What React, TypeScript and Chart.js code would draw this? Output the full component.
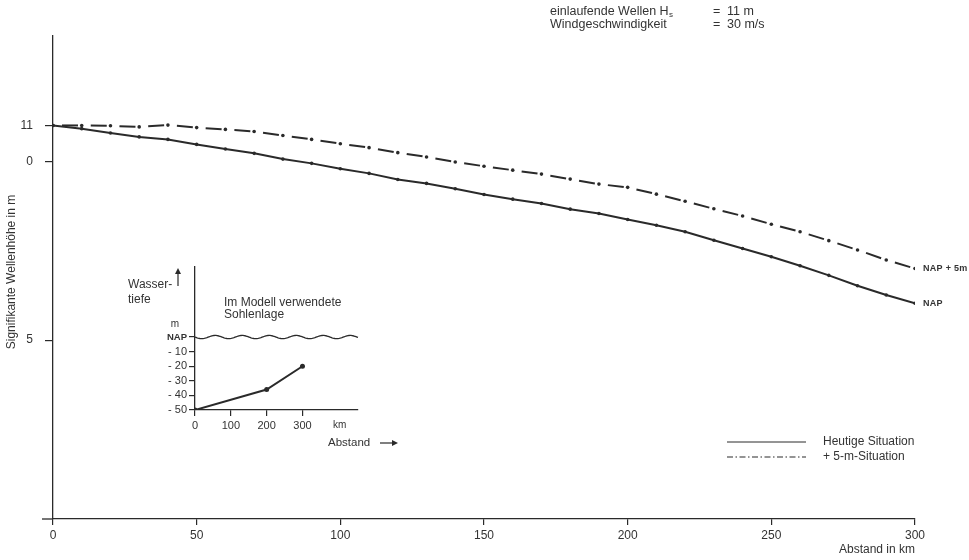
import React, { useEffect, useRef } from "react";
import { Chart, registerables } from "chart.js";

Chart.register(...registerables);

// ---------- main chart data ----------
const DISTANCE_KM = [0, 10, 20, 30, 40, 50, 60, 70, 80, 90, 100, 110, 120, 130, 140, 150, 160, 170, 180, 190, 200, 210, 220, 230, 240, 250, 260, 270, 280, 290, 300];
const HEUTIGE_M = [11.0, 10.91, 10.79, 10.68, 10.61, 10.47, 10.34, 10.22, 10.06, 9.94, 9.79, 9.66, 9.49, 9.38, 9.23, 9.07, 8.94, 8.82, 8.66, 8.54, 8.37, 8.21, 8.03, 7.79, 7.56, 7.33, 7.08, 6.81, 6.52, 6.26, 6.03];
const PLUS5_M = [11.0, 11.0, 10.99, 10.96, 11.01, 10.94, 10.89, 10.83, 10.72, 10.61, 10.49, 10.38, 10.24, 10.12, 9.98, 9.86, 9.75, 9.64, 9.5, 9.36, 9.27, 9.08, 8.88, 8.67, 8.47, 8.24, 8.03, 7.78, 7.52, 7.24, 7.0];
const SERIES_LABELS = ["Heutige Situation", "+ 5-m-Situation"];
const END_LABELS = ["NAP", "NAP + 5m"];
const X_TICKS = [0, 50, 100, 150, 200, 250, 300];
const Y_TICKS = [5, 10, 11];
const Y_TICK_LABELS = ["5", "0", "11"];
const HEADER_LINES = [
  ["einlaufende Wellen H", "s", "=", "11 m"],
  ["Windgeschwindigkeit", "", "=", "30 m/s"],
];

// ---------- inset data ----------
const INSET_KM = [0, 200, 300];
const INSET_DEPTH_M = [-50, -36, -20];
const INSET_X_TICKS = [0, 100, 200, 300];
const INSET_Y_TICKS = [0, -10, -20, -30, -40, -50];
const INSET_Y_LABELS = ["NAP", "- 10", "- 20", "- 30", "- 40", "- 50"];

const FONT = '"Liberation Sans", Arial, Helvetica, sans-serif';
const INK = "#2a2a2a";
const TXT = "#333333";

function text(ctx: CanvasRenderingContext2D, s: string, x: number, y: number, size: number, align: CanvasTextAlign = "left", weight = "normal", spacing = "0px") {
  ctx.save();
  ctx.font = `${weight} ${size}px ${FONT}`;
  ctx.fillStyle = TXT;
  ctx.textAlign = align;
  ctx.textBaseline = "middle";
  (ctx as any).letterSpacing = spacing;
  ctx.fillText(s, x, y);
  ctx.restore();
}

function arrowHead(ctx: CanvasRenderingContext2D, x: number, y: number, dir: "up" | "right") {
  ctx.beginPath();
  if (dir === "up") {
    ctx.moveTo(x, y);
    ctx.lineTo(x - 3, y + 6);
    ctx.lineTo(x + 3, y + 6);
  } else {
    ctx.moveTo(x, y);
    ctx.lineTo(x - 6, y - 3);
    ctx.lineTo(x - 6, y + 3);
  }
  ctx.closePath();
  ctx.fill();
}

const mainAnnotations = {
  id: "mainAnnotations",
  afterDraw(chart: any) {
    const ctx: CanvasRenderingContext2D = chart.ctx;
    const xs = chart.scales.x;
    const ys = chart.scales.y;
    const area = chart.chartArea;

    // small overhang of the x axis to the left of the y axis
    ctx.save();
    ctx.strokeStyle = INK;
    ctx.lineWidth = 1.3;
    ctx.beginPath();
    ctx.moveTo(42, area.bottom);
    ctx.lineTo(area.left, area.bottom);
    ctx.stroke();
    ctx.restore();

    // header
    HEADER_LINES.forEach((row, i) => {
      const y = 12 + i * 13;
      ctx.save();
      ctx.font = `12.5px ${FONT}`;
      const w = ctx.measureText(row[0]).width;
      ctx.restore();
      text(ctx, row[0], 550, y, 12.5);
      if (row[1]) text(ctx, row[1], 550 + w + 0.5, y + 3, 8);
      text(ctx, row[2], 713, y, 12.5);
      text(ctx, row[3], 727, y, 12.5);
    });

    // axis titles
    ctx.save();
    ctx.translate(12, 272);
    ctx.rotate(-Math.PI / 2);
    text(ctx, "Signifikante Wellenhöhe in m", 0, 0, 12, "center");
    ctx.restore();
    text(ctx, "Abstand in km", 915, 550, 12, "right");

    // end labels
    const xe = xs.getPixelForValue(DISTANCE_KM[DISTANCE_KM.length - 1]);
    text(ctx, END_LABELS[0], xe + 8, ys.getPixelForValue(HEUTIGE_M[HEUTIGE_M.length - 1]), 9, "left", "bold", "0.3px");
    text(ctx, END_LABELS[1], xe + 8, ys.getPixelForValue(PLUS5_M[PLUS5_M.length - 1]), 9, "left", "bold", "0.3px");

    // legend
    ctx.save();
    ctx.strokeStyle = INK;
    ctx.lineWidth = 1;
    ctx.beginPath();
    ctx.moveTo(727, 442);
    ctx.lineTo(806, 442);
    ctx.stroke();
    ctx.setLineDash([6, 2.5, 1.5, 2.5]);
    ctx.lineWidth = 1.2;
    ctx.beginPath();
    ctx.moveTo(727, 457);
    ctx.lineTo(806, 457);
    ctx.stroke();
    ctx.restore();
    text(ctx, SERIES_LABELS[0], 823, 442, 12);
    text(ctx, SERIES_LABELS[1], 823, 457, 12);
  },
};

const insetAnnotations = {
  id: "insetAnnotations",
  afterDraw(chart: any) {
    const ctx: CanvasRenderingContext2D = chart.ctx;
    const area = chart.chartArea;
    const ys = chart.scales.y;
    const y0 = ys.getPixelForValue(0);

    // water surface (wavy line at NAP)
    ctx.save();
    ctx.strokeStyle = INK;
    ctx.lineWidth = 1.3;
    ctx.beginPath();
    for (let x = area.left; x <= area.right; x += 1) {
      const y = y0 + 1.6 * Math.sin(((x - area.left) / 27) * Math.PI * 2);
      if (x === area.left) ctx.moveTo(x, y);
      else ctx.lineTo(x, y);
    }
    ctx.stroke();

    // y-axis caption with arrow
    ctx.lineWidth = 1.2;
    ctx.fillStyle = INK;
    ctx.beginPath();
    ctx.moveTo(78, 36);
    ctx.lineTo(78, 22);
    ctx.stroke();
    arrowHead(ctx, 78, 18, "up");

    // x-axis caption arrow
    ctx.beginPath();
    ctx.moveTo(280, 193);
    ctx.lineTo(294, 193);
    ctx.stroke();
    arrowHead(ctx, 298, 193, "right");
    ctx.restore();

    text(ctx, "Wasser-", 28, 35, 12);
    text(ctx, "tiefe", 28, 50, 12);
    text(ctx, "m", 75, 74, 10, "center");
    text(ctx, "Im Modell verwendete", 124, 53, 12);
    text(ctx, "Sohlenlage", 124, 65, 12);
    text(ctx, "km", 233, 175, 10);
    text(ctx, "Abstand", 228, 193, 11.5);
  },
};

export default function App() {
  const mainRef = useRef<HTMLCanvasElement>(null);
  const insetRef = useRef<HTMLCanvasElement>(null);

  useEffect(() => {
    document.body.style.margin = "0";
    if (!mainRef.current || !insetRef.current) return;

    const axisGrid = { drawOnChartArea: false, drawTicks: true, color: INK, lineWidth: 1.2 };
    const axisBorder = { display: true, color: INK, width: 1.3 };

    const main = new Chart(mainRef.current, {
      type: "line",
      data: {
        datasets: [
          {
            label: SERIES_LABELS[0],
            data: DISTANCE_KM.map((x, i) => ({ x, y: HEUTIGE_M[i] })),
            borderColor: INK,
            borderWidth: 2,
            pointRadius: 1.8,
            pointBackgroundColor: INK,
            pointBorderWidth: 0,
            tension: 0,
          },
          {
            label: SERIES_LABELS[1],
            data: DISTANCE_KM.map((x, i) => ({ x, y: PLUS5_M[i] })),
            borderColor: INK,
            borderWidth: 2,
            borderDash: [16, 14],
            borderDashOffset: 21,
            segment: {
              borderDash: () => [16, 14],
              borderDashOffset: (c: any) => 21 + (c.p0DataIndex % 2) * 0.001,
            },
            pointRadius: 1.8,
            pointBackgroundColor: INK,
            pointBorderWidth: 0,
            tension: 0,
          },
        ],
      } as any,
      options: {
        responsive: false,
        animation: false,
        devicePixelRatio: 1,
        layout: { padding: { top: 36, right: 54, left: 0, bottom: 0 } },
        plugins: { legend: { display: false }, tooltip: { enabled: false }, title: { display: false } },
        scales: {
          x: {
            type: "linear",
            min: 0,
            max: 300,
            afterBuildTicks: (s: any) => { s.ticks = X_TICKS.map((v) => ({ value: v })); },
            afterFit: (s: any) => { s.height = 41; },
            grid: { ...axisGrid, tickLength: 6 },
            border: axisBorder,
            ticks: { color: TXT, font: { family: FONT, size: 12 }, padding: 3, maxRotation: 0, autoSkip: false, callback: (v: any) => String(v) },
          },
          y: {
            type: "linear",
            min: 0,
            max: 13.5,
            afterBuildTicks: (s: any) => { s.ticks = Y_TICKS.map((v) => ({ value: v })); },
            afterFit: (s: any) => { s.width = 53; },
            grid: { ...axisGrid, tickLength: 8 },
            border: axisBorder,
            ticks: {
              color: TXT,
              font: { family: FONT, size: 12 },
              padding: 12,
              autoSkip: false,
              callback: (v: any) => Y_TICK_LABELS[Y_TICKS.indexOf(Number(v))] ?? "",
            },
          },
        },
      } as any,
      plugins: [mainAnnotations],
    });

    const inset = new Chart(insetRef.current, {
      type: "line",
      data: {
        datasets: [
          {
            data: INSET_KM.map((x, i) => ({ x, y: INSET_DEPTH_M[i] })),
            borderColor: INK,
            borderWidth: 2,
            pointRadius: 2.5,
            pointBackgroundColor: INK,
            pointBorderWidth: 0,
            tension: 0,
          },
        ],
      } as any,
      options: {
        responsive: false,
        animation: false,
        devicePixelRatio: 1,
        layout: { padding: { top: 17, right: 42, left: 0, bottom: 0 } },
        plugins: { legend: { display: false }, tooltip: { enabled: false } },
        scales: {
          x: {
            type: "linear",
            min: 0,
            max: 455,
            afterBuildTicks: (s: any) => { s.ticks = INSET_X_TICKS.map((v) => ({ value: v })); },
            afterFit: (s: any) => { s.height = 50; },
            grid: { ...axisGrid, tickLength: 6 },
            border: axisBorder,
            ticks: { color: TXT, font: { family: FONT, size: 11 }, padding: 3, maxRotation: 0, autoSkip: false, callback: (v: any) => String(v) },
          },
          y: {
            type: "linear",
            min: -50,
            max: 48,
            afterBuildTicks: (s: any) => { s.ticks = INSET_Y_TICKS.map((v) => ({ value: v })); },
            afterFit: (s: any) => { s.width = 95; },
            grid: { ...axisGrid, tickLength: 6 },
            border: axisBorder,
            ticks: {
              color: TXT,
              padding: 2,
              autoSkip: false,
              font: (c: any) =>
                c.tick && c.tick.value === 0
                  ? { family: FONT, size: 9.5, weight: "bold" }
                  : { family: FONT, size: 11 },
              callback: (v: any) => INSET_Y_LABELS[INSET_Y_TICKS.indexOf(Number(v))] ?? "",
            },
          },
        },
      } as any,
      plugins: [insetAnnotations],
    });

    return () => {
      main.destroy();
      inset.destroy();
    };
  }, []);

  return (
    <div style={{ position: "relative", width: 969, height: 560, background: "#ffffff", overflow: "hidden" }}>
      <canvas ref={mainRef} width={969} height={560} style={{ position: "absolute", left: 0, top: 0, width: 969, height: 560 }} />
      <canvas ref={insetRef} width={300} height={210} style={{ position: "absolute", left: 100, top: 250, width: 300, height: 210 }} />
    </div>
  );
}
